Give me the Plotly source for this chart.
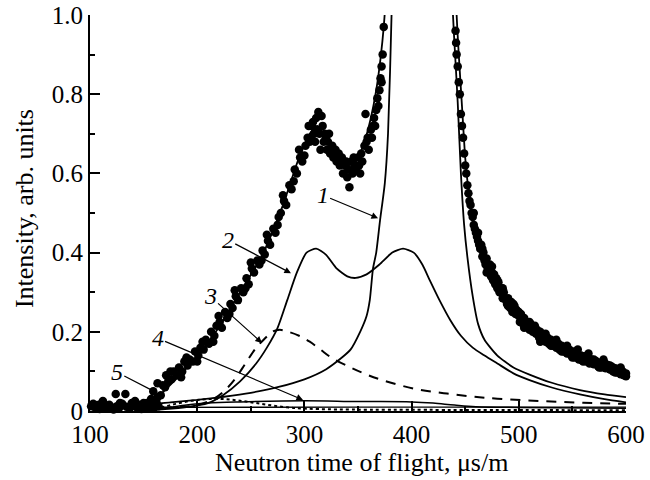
import plotly.graph_objects as go

# ---------------- data ----------------
data_flat = [(101, 0.012), (103, 0.018), (105, 0.008), (107, 0.015), (109, 0.005), (111, 0.02),
             (113, 0.01), (116, 0.006), (118, 0.016), (120, 0.009), (122, 0.004), (124, 0.043),
             (125, 0.012), (127, 0.007), (130, 0.018), (133, 0.043), (134, 0.011), (137, 0.006),
             (139, 0.02), (141, 0.013), (144, 0.008), (146, 0.016), (148, 0.005), (151, 0.01),
             (153, 0.02), (155, 0.007), (158, 0.014), (160, 0.009), (162, 0.022), (164, 0.012),
             (112, 0.025), (128, 0.02), (142, 0.025), (150, 0.02), (157, 0.03), (163, 0.035)]

data_rise = [(159, 0.05), (163, 0.07), (166, 0.04), (168, 0.065), (171, 0.09), (173, 0.075),
             (176, 0.08), (178, 0.1), (181, 0.09), (183, 0.11), (186, 0.1), (188, 0.125),
             (191, 0.115), (193, 0.13), (196, 0.125), (198, 0.15), (201, 0.14), (203, 0.16),
             (206, 0.155), (208, 0.18), (211, 0.17), (213, 0.2), (216, 0.19), (218, 0.215),
             (221, 0.225), (223, 0.21), (226, 0.25), (228, 0.235), (231, 0.27), (233, 0.26),
             (236, 0.29), (238, 0.28), (241, 0.31), (243, 0.3), (246, 0.335), (248, 0.32),
             (251, 0.36), (253, 0.35), (256, 0.38), (258, 0.37), (261, 0.405), (263, 0.395),
             (266, 0.43), (268, 0.42), (271, 0.46), (273, 0.45), (276, 0.49), (278, 0.5),
             (281, 0.53), (283, 0.52), (286, 0.57), (288, 0.56), (291, 0.61), (293, 0.6),
             (296, 0.64), (298, 0.63), (301, 0.67), (303, 0.69), (305, 0.68), (307, 0.72),
             (309, 0.70), (311, 0.74), (313, 0.755),
             (170, 0.06), (175, 0.1), (185, 0.085), (190, 0.135), (200, 0.125), (205, 0.175),
             (215, 0.175), (220, 0.24), (230, 0.245), (235, 0.305), (245, 0.31), (250, 0.375),
             (260, 0.38), (265, 0.445), (275, 0.47), (280, 0.545), (290, 0.58), (295, 0.66),
             (300, 0.645), (304, 0.72)]

data_peak = [(306, 0.69), (308, 0.73), (310, 0.68), (312, 0.71), (314, 0.7), (315, 0.66),
             (317, 0.72), (318, 0.68), (320, 0.69), (321, 0.66), (323, 0.7), (324, 0.65),
             (326, 0.67), (327, 0.64), (329, 0.66), (330, 0.63), (332, 0.65), (333, 0.62),
             (335, 0.64), (336, 0.6), (338, 0.62), (339, 0.63), (341, 0.61), (342, 0.565),
             (344, 0.63), (345, 0.6), (347, 0.62), (348, 0.61), (350, 0.64), (351, 0.62),
             (353, 0.65), (354, 0.63), (356, 0.67), (357, 0.75), (359, 0.69), (360, 0.66),
             (362, 0.71), (363, 0.69), (365, 0.74), (366, 0.72), (368, 0.79), (369, 0.77),
             (371, 0.84), (372, 0.87), (373, 0.9), (374, 0.97),
             (316, 0.745), (319, 0.7), (322, 0.68), (328, 0.655), (334, 0.635), (340, 0.59),
             (346, 0.64), (352, 0.6), (358, 0.68), (364, 0.72), (367, 0.76), (370, 0.81),
             (372, 0.83)]

data_tail = [(441, 0.96), (441.5, 0.93), (442, 0.9), (443, 0.87), (444, 0.83), (445, 0.8),
             (446, 0.75), (447, 0.72), (448, 0.69), (449, 0.65), (450, 0.62), (451, 0.6),
             (452, 0.57), (453, 0.55), (454, 0.53), (455, 0.52), (456, 0.5), (457, 0.49),
             (458, 0.47), (459, 0.46), (460, 0.45), (461, 0.44), (462, 0.43), (463, 0.42),
             (464, 0.41), (465, 0.42), (466, 0.39), (467, 0.4), (468, 0.38), (469, 0.37),
             (470, 0.385), (471, 0.36), (472, 0.355), (473, 0.37), (474, 0.34), (475, 0.35),
             (476, 0.33), (477, 0.345), (478, 0.32), (479, 0.335), (480, 0.31), (481, 0.325),
             (482, 0.3), (484, 0.31), (485, 0.285), (486, 0.3), (488, 0.28), (489, 0.27),
             (490, 0.285), (492, 0.26), (493, 0.275), (494, 0.25), (496, 0.265), (497, 0.245),
             (498, 0.255), (500, 0.24), (501, 0.225), (502, 0.245), (504, 0.22), (505, 0.235),
             (507, 0.215), (508, 0.225), (510, 0.205), (511, 0.22), (513, 0.2), (514, 0.21),
             (516, 0.195), (517, 0.205), (519, 0.185), (520, 0.2), (522, 0.18), (523, 0.19),
             (525, 0.175), (527, 0.185), (528, 0.17), (530, 0.18), (532, 0.165), (533, 0.175),
             (535, 0.16), (537, 0.17), (538, 0.155), (540, 0.165), (542, 0.15), (544, 0.16),
             (545, 0.145), (547, 0.155), (549, 0.14), (551, 0.15), (552, 0.135), (554, 0.145),
             (556, 0.13), (558, 0.14), (559, 0.128), (561, 0.138), (563, 0.125), (565, 0.133),
             (566, 0.12), (568, 0.13), (570, 0.118), (572, 0.126), (574, 0.113), (575, 0.122),
             (577, 0.11), (579, 0.13), (581, 0.108), (583, 0.116), (585, 0.105), (587, 0.112),
             (588, 0.1), (590, 0.108), (592, 0.097), (594, 0.105), (595, 0.093), (597, 0.1),
             (598, 0.09), (600, 0.095),
             (458, 0.5), (462, 0.45), (466, 0.41), (470, 0.35), (475, 0.365), (480, 0.33),
             (485, 0.31), (490, 0.265), (495, 0.27), (500, 0.25), (505, 0.21), (510, 0.225),
             (515, 0.215), (520, 0.175), (525, 0.195), (530, 0.165), (535, 0.18), (540, 0.15),
             (545, 0.165), (550, 0.135), (555, 0.155), (560, 0.125), (565, 0.145), (570, 0.13),
             (575, 0.11), (580, 0.122), (585, 0.115), (590, 0.097), (595, 0.11), (600, 0.088)]

# total fit (solid) - goes off scale between ~375 and ~442
fit_total_x = [100, 130, 160, 180, 200, 220, 240, 260, 280, 295, 305, 312, 320, 330, 340,
               348, 356, 362, 367, 371, 374, 377, 382, 400, 420, 436, 442, 444, 447, 450,
               453, 459, 466, 475, 484, 495, 505, 520, 540, 560, 580, 600]
fit_total_y = [0.012, 0.013, 0.03, 0.08, 0.14, 0.21, 0.3, 0.39, 0.52, 0.64, 0.7, 0.72, 0.69,
               0.645, 0.62, 0.63, 0.68, 0.74, 0.81, 0.89, 0.97, 1.1, 1.5, 4.0, 4.0, 1.5, 1.0,
               0.9, 0.77, 0.64, 0.56, 0.46, 0.39, 0.33, 0.285, 0.245, 0.215, 0.182, 0.153,
               0.128, 0.105, 0.087]

# curve 1 (narrow line)
c1_x = [100, 150, 175, 200, 225, 250, 275, 300, 320, 335, 343, 352, 358, 361, 364, 367,
        370.5, 375, 378, 381.3, 385, 400, 420, 434, 438.6, 441, 443, 446, 449, 452, 457,
        462, 468, 480, 495, 510, 530, 557, 580, 600]
c1_y = [0.01, 0.015, 0.022, 0.028, 0.036, 0.046, 0.06, 0.08, 0.105, 0.135, 0.155, 0.2, 0.24,
        0.28, 0.36, 0.4, 0.48, 0.575, 0.7, 1.0, 1.6, 4.0, 4.0, 1.4, 1.0, 0.88, 0.78, 0.6,
        0.47, 0.39, 0.29, 0.22, 0.18, 0.14, 0.11, 0.092, 0.072, 0.053, 0.042, 0.035]

# curve 2 (two-humped)
c2_x = [150, 170, 190, 210, 224, 240, 255, 265, 275, 284, 293, 302, 311, 320, 330, 340,
        348, 358, 370, 382, 392, 402, 410, 417, 426, 436, 446, 457, 468, 480, 495, 510,
        530, 557, 580, 600]
c2_y = [0.002, 0.005, 0.01, 0.02, 0.04, 0.075, 0.12, 0.16, 0.21, 0.28, 0.35, 0.4, 0.41,
        0.395, 0.36, 0.34, 0.336, 0.345, 0.37, 0.4, 0.41, 0.4, 0.37, 0.33, 0.28, 0.23,
        0.19, 0.16, 0.14, 0.12, 0.095, 0.078, 0.06, 0.042, 0.03, 0.022]

# curve 3 (dashed)
c3_x = [150, 180, 200, 215, 225, 235, 245, 255, 262, 270, 277, 285, 295, 305, 315, 325,
        343, 360, 380, 405, 430, 455, 480, 520, 560, 600]
c3_y = [0.005, 0.01, 0.015, 0.03, 0.05, 0.08, 0.12, 0.16, 0.18, 0.2, 0.205, 0.2, 0.19,
        0.175, 0.155, 0.135, 0.11, 0.09, 0.072, 0.055, 0.045, 0.037, 0.031, 0.025, 0.021, 0.018]

# curve 4 (thin solid, low)
c4_x = [150, 170, 190, 210, 240, 300, 350, 400, 420, 440, 460, 500, 600]
c4_y = [0.003, 0.008, 0.015, 0.02, 0.023, 0.026, 0.024, 0.023, 0.02, 0.015, 0.011, 0.009, 0.007]

# curve 5 (dotted)
c5_x = [150, 165, 180, 195, 210, 225, 240, 255, 270, 285, 300, 330, 400, 600]
c5_y = [0.003, 0.008, 0.018, 0.026, 0.03, 0.03, 0.026, 0.02, 0.014, 0.009, 0.006, 0.004,
        0.003, 0.002]

# background (flat)
bg_x = [160, 250, 350, 450, 600]
bg_y = [0.009, 0.01, 0.01, 0.01, 0.01]

# curve labels: (text x, text y, arrow tip x, arrow tip y)
labels = ["1", "2", "3", "4", "5"]
label_pos = [(317, 0.545), (228.5, 0.432), (212, 0.29), (163, 0.184), (125, 0.098)]
label_tip = [(368.7, 0.487), (287.5, 0.348), (260.4, 0.172), (298.7, 0.028), (163, 0.045)]

x_ticks = [100, 200, 300, 400, 500, 600]
y_ticks = [0, 0.2, 0.4, 0.6, 0.8, 1.0]
y_ticktext = ["0", "0.2", "0.4", "0.6", "0.8", "1.0"]

# ---------------- figure ----------------
FONT = "Liberation Serif, Times New Roman, serif"
fig = go.Figure()

line_style = dict(color="black", width=1.8, shape="spline", smoothing=0.6)
fig.add_trace(go.Scatter(x=bg_x, y=bg_y, mode="lines", line=dict(color="black", width=1.3)))
fig.add_trace(go.Scatter(x=c5_x, y=c5_y, mode="lines",
                         line=dict(color="black", width=2, dash="dot", shape="spline")))
fig.add_trace(go.Scatter(x=c4_x, y=c4_y, mode="lines",
                         line=dict(color="black", width=1.5, shape="spline")))
fig.add_trace(go.Scatter(x=c3_x, y=c3_y, mode="lines",
                         line=dict(color="black", width=2, dash="10px,8px", shape="spline")))
fig.add_trace(go.Scatter(x=c2_x, y=c2_y, mode="lines", line=line_style))
fig.add_trace(go.Scatter(x=c1_x, y=c1_y, mode="lines", line=line_style))
fig.add_trace(go.Scatter(x=fit_total_x, y=fit_total_y, mode="lines", line=line_style))

all_pts = data_flat + data_rise + data_peak + data_tail
fig.add_trace(go.Scatter(x=[p[0] for p in all_pts], y=[p[1] for p in all_pts], mode="markers",
                         marker=dict(color="black", size=8.5), cliponaxis=False))

annotations = []
for t, (tx, ty), (hx, hy) in zip(labels, label_pos, label_tip):
    annotations.append(dict(x=hx, y=hy, ax=tx, ay=ty, xref="x", yref="y", axref="x", ayref="y",
                            text="<i>" + t + "</i>", showarrow=True, arrowhead=2, arrowsize=1.1,
                            arrowwidth=1.2, arrowcolor="black",
                            font=dict(family=FONT, size=24, color="black")))

annotations.append(dict(x=0.507, y=-0.13, xref="paper", yref="paper", showarrow=False,
                        text="Neutron time of flight, μs/m", xanchor="center", yanchor="middle",
                        font=dict(family=FONT, size=26, color="black")))
annotations.append(dict(x=-0.123, y=0.51, xref="paper", yref="paper", showarrow=False,
                        text="Intensity, arb. units", textangle=-90, xanchor="center",
                        yanchor="middle", font=dict(family=FONT, size=26, color="black")))

axis_common = dict(showline=True, linecolor="black", linewidth=2, ticks="inside", ticklen=10,
                   tickwidth=1.5, tickcolor="black", showgrid=False, zeroline=False,
                   automargin=False, ticklabeloverflow="allow",
                   tickfont=dict(family=FONT, size=25, color="black"))

fig.update_layout(
    template="none",
    width=650, height=480,
    margin=dict(l=90, r=24, t=15, b=69),
    paper_bgcolor="white", plot_bgcolor="white",
    showlegend=False,
    annotations=annotations,
    xaxis=dict(range=[100, 600], tickvals=x_ticks,
               minor=dict(ticks="inside", ticklen=5, tickwidth=1.5, tickcolor="black", dtick=50,
                          tick0=100, showgrid=False),
               **axis_common),
    yaxis=dict(range=[0, 1], tickvals=y_ticks, ticktext=y_ticktext,
               minor=dict(ticks="inside", ticklen=5, tickwidth=1.5, tickcolor="black", dtick=0.1,
                          tick0=0, showgrid=False),
               **axis_common),
)

# remove the default 8px page margin so the 650x480 figure fills the window exactly
fig.write_html("out.html", config={"displayModeBar": False},
               post_script="document.body.style.margin='0';document.body.style.overflow='hidden';")
